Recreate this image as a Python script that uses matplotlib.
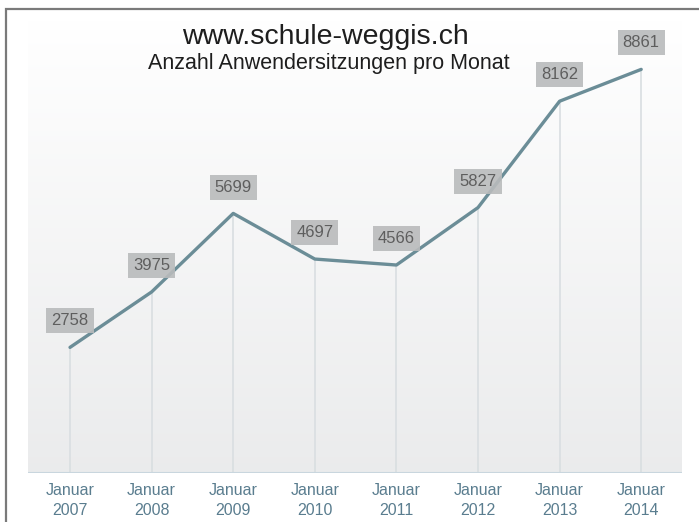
import numpy as np
import matplotlib
matplotlib.use('Agg')
import matplotlib.pyplot as plt
from matplotlib.patches import Rectangle

plt.rcParams['font.family'] = ['Liberation Sans', 'DejaVu Sans']

years = ['2007', '2008', '2009', '2010', '2011', '2012', '2013', '2014']
sessions = [2758, 3975, 5699, 4697, 4566, 5827, 8162, 8861]
tick_labels = ['Januar\n' + y for y in years]

W, H = 699, 522
fig = plt.figure(figsize=(W/100, H/100), dpi=100)
fig.patch.set_facecolor('white')

# plot area in pixels: left 28, right 682, top 20, baseline 473
ax = fig.add_axes([28/W, (H-473)/H, (682-28)/W, (473-20)/H])
x = np.arange(len(years))
ax.set_xlim(-0.515, 7.5)
ax.set_ylim(0, 9945)

# background gradient
grad = np.linspace(1.0, 0.0, 256).reshape(-1, 1)
top = np.array([1.0, 1.0, 1.0])
bot = np.array([0.92, 0.923, 0.927])
img = top * grad[..., None] + bot * (1 - grad[..., None])
ax.imshow(img, extent=[-0.515, 7.5, 0, 9945], aspect='auto', zorder=0)

# vertical drop lines
for xi, v in zip(x, sessions):
    ax.plot([xi, xi], [0, v], color='#d9dee1', lw=1.2, zorder=1)

ax.plot(x, sessions, color='#6b8d97', lw=2.4, solid_capstyle='round', zorder=3)

for xi, v in zip(x, sessions):
    ax.annotate(str(v), (xi, v), xytext=(0, 19), textcoords='offset points',
                ha='center', va='center', fontsize=12, color='#5e5e5e', zorder=4,
                bbox=dict(boxstyle='square,pad=0.3', fc='#b9bbbc', ec='none', alpha=0.9))

ax.axhline(0, color='#c9d6de', lw=1.5, zorder=2)

ax.set_xticks(x)
ax.set_xticklabels(tick_labels, fontsize=11.5, color='#5a7d8f', linespacing=1.45)
ax.tick_params(axis='x', length=0, pad=7)
ax.set_yticks([])
for s in ax.spines.values():
    s.set_visible(False)

fig.text(325/W, 1 - 37/H, 'www.schule-weggis.ch', ha='center', va='center',
         fontsize=20.5, color='#1e1e1e')
fig.text(329/W, 1 - 63/H, 'Anzahl Anwendersitzungen pro Monat', ha='center', va='center',
         fontsize=15.5, color='#1e1e1e')

# outer frame (left and top edges visible)
fig.patches.append(Rectangle((6/W, -0.05), 1.1, 1 - 9/H + 0.05, transform=fig.transFigure,
                             fill=False, ec='#7a7a7a', lw=1.6, zorder=10))

fig.savefig('out.png', dpi=100)
